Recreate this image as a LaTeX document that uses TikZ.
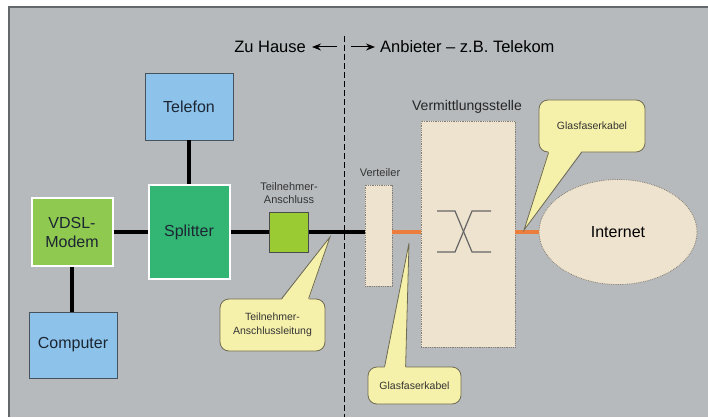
\documentclass[tikz,border=0pt]{standalone}
\usepackage{fontspec}
\setmainfont{Liberation Sans}
\usetikzlibrary{arrows.meta,shapes.geometric}
\definecolor{panelgray}{HTML}{B6BABD}
\definecolor{paneledge}{HTML}{65686B}
\definecolor{endblue}{HTML}{8DC2EA}
\definecolor{deviceedge}{HTML}{46525C}
\definecolor{splitgreen}{HTML}{33B673}
\definecolor{modemgreen}{HTML}{8FC94F}
\definecolor{limegreen}{HTML}{9BCB33}
\definecolor{exchbeige}{HTML}{EEE3CF}
\definecolor{exchedge}{HTML}{857E72}
\definecolor{calloutfill}{HTML}{F6F1AA}
\definecolor{calloutedge}{HTML}{6F6B52}
\definecolor{fibreorange}{HTML}{EC7D3C}
\definecolor{labelink}{HTML}{1C2633}

\begin{document}
\begin{tikzpicture}[
  x=1pt,
  y=-1pt,
  every node/.style={font=\fontsize{16}{19}\selectfont, text=labelink, align=center, inner sep=0pt},
  device/.style={draw=deviceedge, line width=0.8pt, fill=endblue},
  whitebox/.style={draw=white, line width=2pt},
  station/.style={draw=exchedge, densely dotted, line width=0.8pt, fill=exchbeige},
  cable/.style={line width=3.6pt, black},
  fibre/.style={line width=3.8pt, fibreorange},
  balloon/.style={draw=calloutedge, line width=0.8pt, fill=calloutfill, rounded corners=9pt,
    font=\fontsize{10.5}{14}\selectfont, text=black!80},
  headarrow/.style={-{Stealth[length=9pt,width=7pt]}, line width=1pt, black}
]
  \useasboundingbox (0,0) rectangle (708,417);
  \fill[white] (0,0) rectangle (708,417);
  \fill[panelgray] (9,7) rectangle (708,417);
  \draw[paneledge, line width=1.5pt] (9,417) -- (9,7) -- (708,7);

  \draw[black, line width=0.9pt, dash pattern=on 6pt off 3pt] (344.5,36) -- (344.5,417);

  \node[anchor=east, font=\fontsize{16.5}{20}\selectfont, text=black] (zuhause) at (306,47) {Zu Hause};
  \node[anchor=west, font=\fontsize{16.5}{20}\selectfont, text=black] (anbieter) at (380,47) {Anbieter -- z.B. Telekom};
  \coordinate (heimfuss) at (337,47);
  \coordinate (anbfuss) at (351,47);
  \draw[headarrow] (heimfuss) -- ([xshift=6pt]zuhause.east);
  \draw[headarrow] (anbfuss) -- ([xshift=-5pt]anbieter.west);

  \node[device, minimum width=88pt, minimum height=67pt] (telefon) at (189,106.5) {Telefon};
  \node[whitebox, fill=splitgreen, minimum width=81pt, minimum height=94pt] (splitter) at (189,232) {Splitter};
  \node[whitebox, fill=modemgreen, minimum width=81pt, minimum height=68pt] (modem) at (72,232) {VDSL-\\Modem};
  \node[device, minimum width=88pt, minimum height=66pt] (computer) at (73,345) {Computer};
  \node[draw=black!70, line width=0.8pt, fill=limegreen, minimum width=39pt, minimum height=40pt] (anschluss) at (289,232) {};
  \node[font=\fontsize{11}{13}\selectfont, text=black!80] (anschlusstext) at (289,193.5) {Teilnehmer-\\Anschluss};

  \node[station, minimum width=27pt, minimum height=101pt] (verteiler) at (378.5,235.5) {};
  \node[font=\fontsize{11}{13}\selectfont, text=black!80] (verteilertext) at (380,173) {Verteiler};
  \node[station, minimum width=94pt, minimum height=226pt] (vst) at (468,234) {};
  \node[font=\fontsize{14}{17}\selectfont, text=black!85] (vsttext) at (467,107) {Vermittlungsstelle};
  \node[station, ellipse, minimum width=158pt, minimum height=105pt, text=black] (internet) at (618,232) {Internet};

  \draw[black!60, line width=1.2pt] (437,211) -- (455,211) -- (472,252) -- (491,252);
  \draw[black!60, line width=1.2pt] (437,252) -- (455,252) -- (472,211) -- (491,211);

  \draw[cable] (telefon) -- (splitter);
  \draw[cable] (modem.south) -- (modem.south |- computer.north);
  \draw[cable] (modem) -- (splitter);
  \draw[cable] (splitter) -- (anschluss);
  \draw[cable] (anschluss.east) -- (verteiler.west |- anschluss.east);
  \draw[fibre] (verteiler.east |- anschluss.east) -- (vst.west |- anschluss.east);
  \draw[fibre] (vst.east |- anschluss.east) -- (internet.west);

  \node[balloon, minimum width=106pt, minimum height=52pt] (glasoben) at (592,126) {Glasfaserkabel};
  \coordinate (glasobenspitze) at (524,230);
  \fill[calloutfill] ([xshift=10pt,yshift=1.5pt]glasoben.south west) -- (glasobenspitze) -- ([xshift=43pt,yshift=1.5pt]glasoben.south west) -- cycle;
  \draw[calloutedge, line width=0.8pt] ([xshift=10pt]glasoben.south west) -- (glasobenspitze) -- ([xshift=43pt]glasoben.south west);

  \node[balloon, minimum width=105pt, minimum height=52pt] (leitung) at (272.5,325) {Teilnehmer-\\Anschlussleitung};
  \coordinate (leitungspitze) at (330,237);
  \fill[calloutfill] ([xshift=62pt,yshift=-1.5pt]leitung.north west) -- (leitungspitze) -- ([xshift=89pt,yshift=-1.5pt]leitung.north west) -- cycle;
  \draw[calloutedge, line width=0.8pt] ([xshift=62pt]leitung.north west) -- (leitungspitze) -- ([xshift=89pt]leitung.north west);

  \node[balloon, minimum width=93pt, minimum height=37pt] (glasunten) at (414.5,385.5) {Glasfaserkabel};
  \coordinate (glasuntenspitze) at (409,243);
  \fill[calloutfill] ([xshift=17pt,yshift=-1.5pt]glasunten.north west) -- (glasuntenspitze) -- ([xshift=38pt,yshift=-1.5pt]glasunten.north west) -- cycle;
  \draw[calloutedge, line width=0.8pt] ([xshift=17pt]glasunten.north west) -- (glasuntenspitze) -- ([xshift=38pt]glasunten.north west);
\end{tikzpicture}
\end{document}
